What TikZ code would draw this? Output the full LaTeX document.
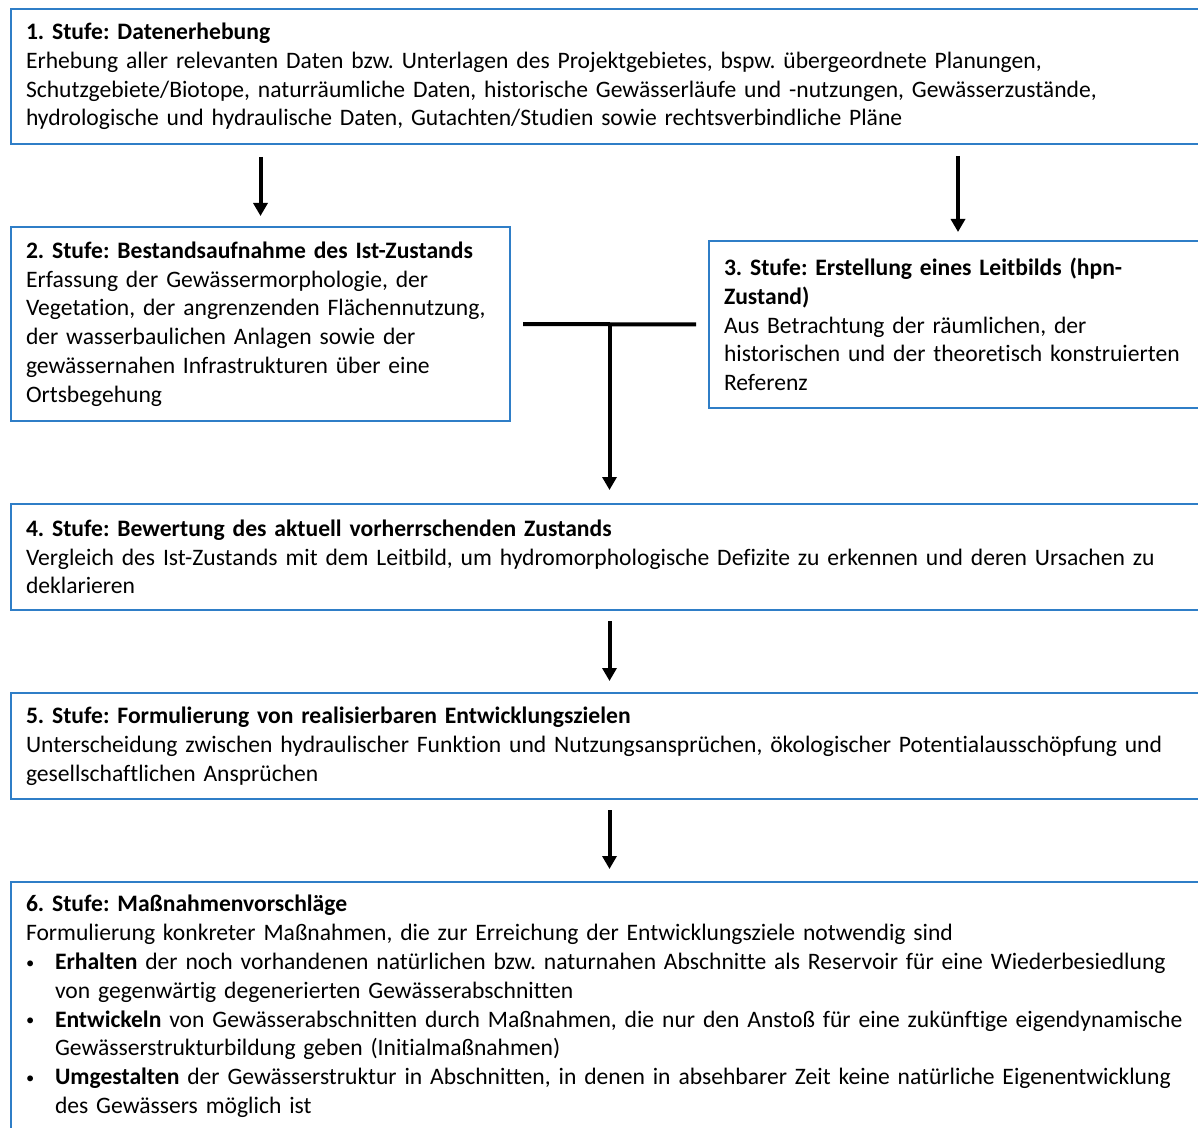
\documentclass[tikz,border=0pt]{standalone}
\usepackage{fontspec}
\setmainfont{Carlito}[Ligatures=NoCommon]
\usepackage{xcolor}
\definecolor{cFrame}{HTML}{2F7EC7}
\usepackage{tikz}
\usetikzlibrary{arrows.meta,calc}
\tikzset{
  stage-box/.style={draw=cFrame,line width=1pt,anchor=north west,align=left,
    inner xsep=7.5pt,inner ysep=0pt,font=\fontsize{11.8}{14.4}\selectfont},
  arrow/.style={-{Triangle[width=7pt,length=6.5pt]},line width=2pt,draw=black},
  joint/.style={line width=2pt,draw=black},
}
\frenchspacing
\newcommand{\stagetitle}[1]{\textbf{#1}\\}
\newcommand{\bulletline}[1]{\makebox[14.5pt][l]{\raisebox{0.12ex}{\scalebox{0.7}{\textbullet}}}#1}
\newcommand{\hangline}{\hspace*{14.5pt}}

\begin{document}
\begin{tikzpicture}[x=0.5pt,y=-0.5pt]
  \useasboundingbox (0,0) rectangle (1198,1128);
  \clip (0,0) rectangle (1198,1128);
  % Stufen
  \node[stage-box,text width=589pt,minimum height=67.5pt] (s1) at (10,8) {%
    \stagetitle{1. Stufe: Datenerhebung}
    Erhebung aller relevanten Daten bzw. Unterlagen des Projektgebietes, bspw. übergeordnete Planungen,\\
    Schutzgebiete/Biotope, naturräumliche Daten, historische Gewässerläufe und -nutzungen, Gewässerzustände,\\
    hydrologische und hydraulische Daten, Gutachten/Studien sowie rechtsverbindliche Pläne};
  \node[stage-box,text width=234.5pt,minimum height=97pt] (s2) at (10,226) {%
    \stagetitle{2. Stufe: Bestandsaufnahme des Ist-Zustands}
    Erfassung der Gewässermorphologie, der\\
    Vegetation, der angrenzenden Flächennutzung,\\
    der wasserbaulichen Anlagen sowie der\\
    gewässernahen Infrastrukturen über eine\\
    Ortsbegehung};
  \node[stage-box,text width=234pt,minimum height=83.5pt] (s3) at (708,240) {%
    \textbf{3. Stufe: Erstellung eines Leitbilds (hpn-}\\
    \stagetitle{Zustand)}
    Aus Betrachtung der räumlichen, der\\
    historischen und der theoretisch konstruierten\\
    Referenz};
  \node[stage-box,text width=589pt,minimum height=53pt] (s4) at (10,503) {%
    \stagetitle{4. Stufe: Bewertung des aktuell vorherrschenden Zustands}
    Vergleich des Ist-Zustands mit dem Leitbild, um hydromorphologische Defizite zu erkennen und deren Ursachen zu\\
    deklarieren};
  \node[stage-box,text width=589pt,minimum height=53pt] (s5) at (10,692) {%
    \stagetitle{5. Stufe: Formulierung von realisierbaren Entwicklungszielen}
    Unterscheidung zwischen hydraulischer Funktion und Nutzungsansprüchen, ökologischer Potentialausschöpfung und\\
    gesellschaftlichen Ansprüchen};
  \node[stage-box,text width=589pt,minimum height=124.5pt] (s6) at (10,881) {%
    \stagetitle{6. Stufe: Maßnahmenvorschläge}
    Formulierung konkreter Maßnahmen, die zur Erreichung der Entwicklungsziele notwendig sind\\
    \bulletline{\textbf{Erhalten} der noch vorhandenen natürlichen bzw. naturnahen Abschnitte als Reservoir für eine Wiederbesiedlung}\\
    \hangline von gegenwärtig degenerierten Gewässerabschnitten\\
    \bulletline{\textbf{Entwickeln} von Gewässerabschnitten durch Maßnahmen, die nur den Anstoß für eine zukünftige eigendynamische}\\
    \hangline Gewässerstrukturbildung geben (Initialmaßnahmen)\\
    \bulletline{\textbf{Umgestalten} der Gewässerstruktur in Abschnitten, in denen in absehbarer Zeit keine natürliche Eigenentwicklung}\\
    \hangline des Gewässers möglich ist};
  % Verbindungen
  \coordinate (tjoin) at ($(s2.east)!0.5!(s3.west)$);
  \draw[arrow,shorten <=6pt,shorten >=5pt] (s2.north |- s1.south) -- (s2.north);
  \draw[arrow,shorten <=5.5pt,shorten >=4pt] (s3.north |- s1.south) -- (s3.north);
  \draw[joint,shorten <=6pt,shorten >=6pt] (s2.east) -- (s3.west);
  \draw[arrow,shorten >=6.5pt] (tjoin) -- (tjoin |- s4.north);
  \draw[arrow,shorten <=5pt,shorten >=5.5pt] (tjoin |- s4.south) -- (tjoin |- s5.north);
  \draw[arrow,shorten <=5pt,shorten >=6pt] (tjoin |- s5.south) -- (tjoin |- s6.north);
\end{tikzpicture}
\end{document}
